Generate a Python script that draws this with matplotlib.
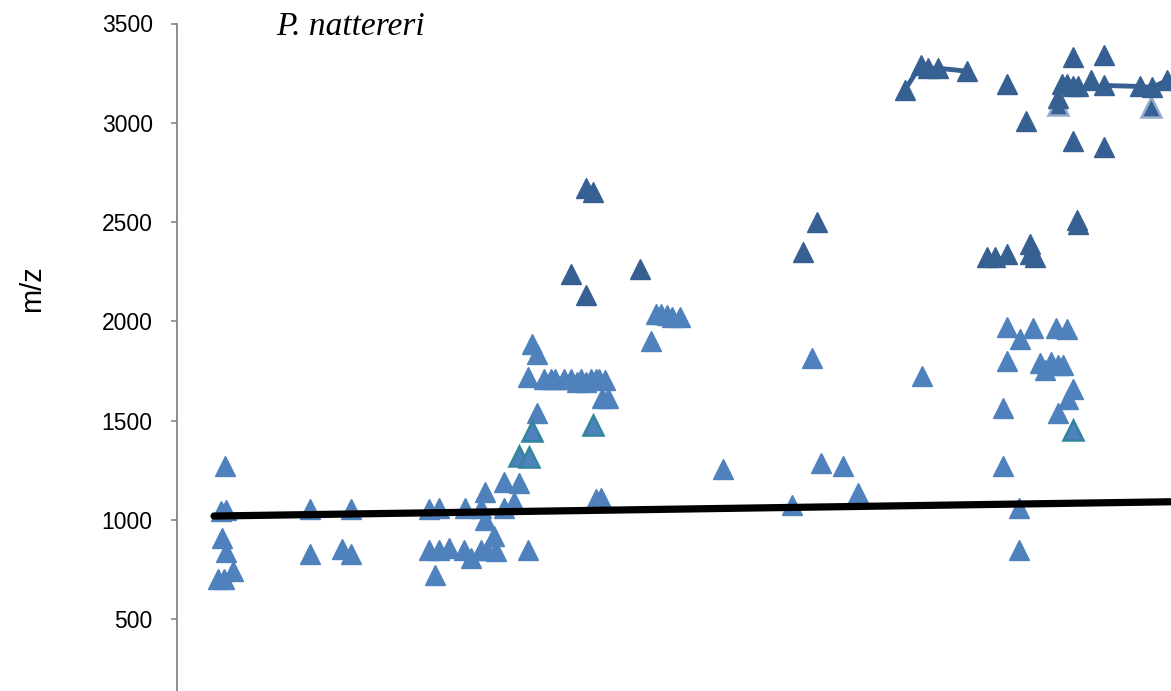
import matplotlib
matplotlib.use("Agg")
import matplotlib.pyplot as plt

# ---- data (x = arbitrary sample position, y = m/z) ----
light_x = [219, 225, 234, 227, 223, 227, 222, 226,
           311, 311, 343, 352, 352,
           430, 436, 430, 440, 440, 450, 466, 465, 472, 482, 482, 486, 486, 488, 495, 497,
           505, 505, 515, 520, 529,
           529, 533, 538, 538,
           545, 552, 556, 565, 572, 578, 582, 587, 592, 597, 600, 606,
           603, 609, 597, 602,
           652, 657, 662, 668, 673, 680,
           723, 792, 812, 821, 843, 858, 922,
           1003, 1003, 1007, 1007, 1019, 1019, 1020, 1033, 1040, 1045, 1051, 1056, 1058,
           1058, 1063, 1067, 1068, 1073]
light_y = [705, 705, 745, 840, 910, 1050, 1045, 1270,
           1055, 830, 855, 1055, 830,
           1055, 725, 850, 1060, 850, 860, 1060, 850, 810, 850, 1060, 1140, 1000, 850, 920, 845,
           1190, 1060, 1090, 1185, 850,
           1720, 1885, 1835, 1540,
           1710, 1710, 1710, 1710, 1710, 1695, 1710, 1695, 1710, 1710, 1710, 1705,
           1615, 1615, 1105, 1110,
           1900, 2035, 2035, 2030, 2020, 2020,
           1255, 1075, 1815, 1285, 1270, 1135, 1725,
           1270, 1565, 1800, 1970, 1060, 850, 1910, 1968, 1790, 1755, 1795, 1968, 1780,
           1540, 1780, 1963, 1610, 1660]

teal_x = [520, 530, 533, 594, 1073]
teal_y = [1320, 1315, 1450, 1480, 1455]

dark_x = [572, 587, 587, 594, 641, 803, 817,
          987, 995, 1007, 1030, 1030, 1035, 1077, 1078,
          1007, 1026, 1058,
          1062, 1067, 1073, 1078, 1091,
          1073, 1104, 1073, 1104]
dark_y = [2240, 2135, 2670, 2650, 2265, 2350, 2500,
          2325, 2325, 2340, 2390, 2340, 2325, 2510, 2490,
          3195, 3010, 3125,
          3197, 3195, 3185, 3185, 3213,
          3330, 3340, 2910, 2880]

outlined_x = [1058, 1151]
outlined_y = [3090, 3080]

line1_x = [905, 921, 928, 938, 967]
line1_y = [3165, 3290, 3275, 3275, 3260]
line2_x = [1104, 1140, 1152, 1167]
line2_y = [3188, 3183, 3178, 3213]

trend_x = [215, 1200]
trend_y = [1020, 1094]

yticks = [500, 1000, 1500, 2000, 2500, 3000, 3500]

LIGHT = "#4F81BD"
DARK = "#376092"
TEAL = "#31859C"

fig = plt.figure(figsize=(11.71, 6.91), dpi=100)
ax = fig.add_axes([177 / 1171, 0.0, 1 - 177 / 1171, (691 - 23.5) / 691])

ms = 14.5
ax.plot(line1_x, line1_y, color=DARK, lw=3.5, zorder=2)
ax.plot(line2_x, line2_y, color=DARK, lw=3.5, zorder=2)
ax.plot(light_x, light_y, ls="none", marker="^", ms=ms, color=LIGHT, mec=LIGHT, zorder=3)
ax.plot(teal_x, teal_y, ls="none", marker="^", ms=ms, color=LIGHT, mec=TEAL, mew=1.8, zorder=3)
ax.plot(outlined_x, outlined_y, ls="none", marker="^", ms=ms, color=DARK, mec="#95ABCB", mew=1.8, zorder=3)
ax.plot(dark_x, dark_y, ls="none", marker="^", ms=ms, color=DARK, mec=DARK, zorder=3)
ax.plot(line1_x, line1_y, ls="none", marker="^", ms=ms, color=DARK, mec=DARK, zorder=3)
ax.plot(line2_x, line2_y, ls="none", marker="^", ms=ms, color=DARK, mec=DARK, zorder=3)
ax.plot(trend_x, trend_y, color="black", lw=5.2, solid_capstyle="round", zorder=4)

ax.set_xlim(178, 1171)
ax.set_ylim(139, 3500)
ax.set_yticks(yticks)
ax.set_yticklabels([str(t) for t in yticks], fontsize=16.5, family="Liberation Sans")
ax.tick_params(axis="y", direction="out", length=4.5, width=1.2, color="#868686", pad=13)
ax.set_xticks([])
for s in ["top", "right", "bottom"]:
    ax.spines[s].set_visible(False)
ax.spines["left"].set_color("#868686")
ax.spines["left"].set_linewidth(1.3)
ax.patch.set_alpha(0)

fig.text(32 / 1171, 1 - 289 / 691, "m/z", rotation=90, ha="center", va="center",
         fontsize=21, family="Liberation Sans")
fig.text(276 / 1171, 1 - 35 / 691, "P. nattereri", ha="left", va="baseline",
         fontsize=24, family="Liberation Serif", style="italic")

fig.savefig("out.png", dpi=100)
